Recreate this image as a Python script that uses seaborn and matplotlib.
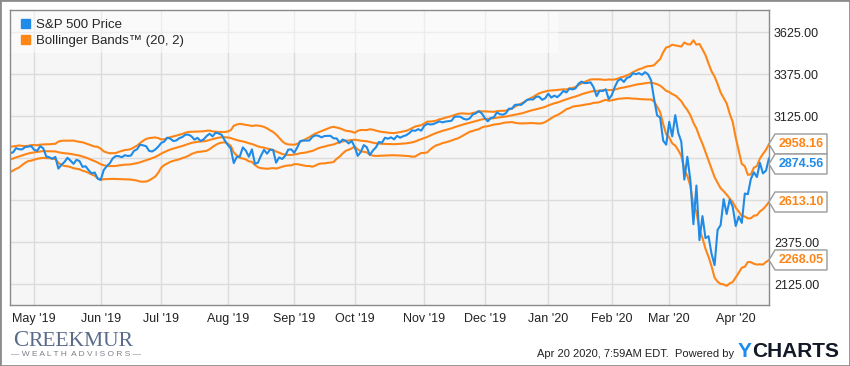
import numpy as np
import pandas as pd
import matplotlib
matplotlib.use("Agg")
import matplotlib.pyplot as plt
import seaborn as sns
from matplotlib.patches import Patch, Polygon, Rectangle
from matplotlib.transforms import IdentityTransform

# S&P 500 daily closes, 21 Mar 2019 - 17 Apr 2020 (extra days before the
# window are needed for the 20 day Bollinger bands)
close_2019_03 = [2854.88, 2800.71, 2798.36, 2818.46, 2805.37, 2815.44, 2834.40]
close_2019_04 = [2867.19, 2867.24, 2873.40, 2879.39, 2892.74, 2895.77, 2878.20, 2888.21,
                 2888.32, 2907.41, 2905.58, 2907.06, 2900.45, 2905.03, 2907.97, 2933.68,
                 2927.25, 2926.17, 2939.88, 2943.03, 2945.83]
close_2019_05 = [2923.73, 2917.52, 2945.64, 2932.47, 2884.05, 2879.42, 2870.72, 2881.40,
                 2811.87, 2834.41, 2850.96, 2876.32, 2859.53, 2840.23, 2864.36, 2856.27,
                 2822.24, 2826.06, 2802.39, 2783.02, 2788.86, 2752.06]
close_2019_06 = [2744.45, 2803.27, 2826.15, 2843.49, 2873.34, 2886.73, 2885.72, 2879.84,
                 2891.64, 2886.98, 2889.67, 2917.75, 2926.46, 2954.18, 2950.46, 2945.35,
                 2917.38, 2913.78, 2924.92, 2941.76]
close_2019_07 = [2964.33, 2973.01, 2995.82, 2990.41, 2975.95, 2979.63, 2993.07, 2999.91,
                 3013.77, 3014.30, 3004.04, 2984.42, 2995.11, 2976.61, 2985.03, 3005.47,
                 3019.56, 3003.67, 3025.86, 3020.97, 3013.18, 2980.38]
close_2019_08 = [2953.56, 2932.05, 2844.74, 2881.77, 2883.98, 2938.09, 2918.65, 2882.70,
                 2926.32, 2840.60, 2847.60, 2888.68, 2923.65, 2900.51, 2924.43, 2922.95,
                 2847.11, 2878.38, 2869.16, 2887.94, 2924.58, 2926.46]
close_2019_09 = [2906.27, 2937.78, 2976.00, 2978.71, 2978.43, 2979.39, 3000.93, 3009.57,
                 3007.39, 2997.96, 3005.70, 3006.73, 3006.79, 2992.07, 2991.78, 2966.60,
                 2984.87, 2977.62, 2961.79, 2976.74]
close_2019_10 = [2940.25, 2887.61, 2910.63, 2952.01, 2938.79, 2893.06, 2919.40, 2938.13,
                 2970.27, 2966.15, 2995.68, 2989.69, 2997.95, 2986.20, 3006.72, 2995.99,
                 3004.52, 3010.29, 3022.55, 3039.42, 3036.89, 3046.77, 3037.56]
close_2019_11 = [3066.91, 3078.27, 3074.62, 3076.78, 3085.18, 3093.08, 3087.01, 3091.84,
                 3094.04, 3096.63, 3120.46, 3122.03, 3120.18, 3108.46, 3103.54, 3110.29,
                 3133.64, 3140.52, 3153.63, 3140.98]
close_2019_12 = [3113.87, 3093.20, 3112.76, 3117.43, 3145.91, 3135.96, 3132.52, 3141.63,
                 3168.57, 3168.80, 3191.45, 3192.52, 3191.14, 3205.37, 3221.22, 3224.01,
                 3223.38, 3239.91, 3240.02, 3221.29, 3230.78]
close_2020_01 = [3257.85, 3234.85, 3246.28, 3237.18, 3253.05, 3274.70, 3265.35, 3288.13,
                 3283.15, 3289.29, 3316.81, 3329.62, 3320.79, 3321.75, 3325.54, 3295.47,
                 3243.63, 3276.24, 3273.40, 3283.66, 3225.52]
close_2020_02 = [3248.92, 3297.59, 3334.69, 3345.78, 3327.71, 3352.09, 3357.75, 3379.45,
                 3373.94, 3380.16, 3370.29, 3386.15, 3373.23, 3337.75, 3225.89, 3128.21,
                 3116.39, 2978.76, 2954.22]
close_2020_03 = [3090.23, 3003.37, 3130.12, 3023.94, 2972.37, 2746.56, 2882.23, 2741.38,
                 2480.64, 2711.02, 2386.13, 2529.19, 2398.10, 2409.39, 2304.92, 2237.40,
                 2447.33, 2475.56, 2630.07, 2541.47, 2626.65, 2584.59]
close_2020_04 = [2470.50, 2526.90, 2488.65, 2663.68, 2659.41, 2749.98, 2789.82, 2761.63,
                 2846.06, 2783.36, 2799.55, 2874.56]

market_holidays = ["2019-04-19", "2019-05-27", "2019-07-04", "2019-09-02", "2019-11-28",
                   "2019-12-25", "2020-01-01", "2020-01-20", "2020-02-17", "2020-04-10"]
y_ticks = [2125, 2375, 2625, 2875, 3125, 3375, 3625]
hidden_y_labels = [2625, 2875]

blue = "#1f8be6"
orange = "#ff8517"

closes = (close_2019_03 + close_2019_04 + close_2019_05 + close_2019_06 + close_2019_07
          + close_2019_08 + close_2019_09 + close_2019_10 + close_2019_11 + close_2019_12
          + close_2020_01 + close_2020_02 + close_2020_03 + close_2020_04)
dates = pd.bdate_range("2019-03-21", "2020-04-17", freq="C", holidays=market_holidays)
assert len(dates) == len(closes), (len(dates), len(closes))

price = pd.Series(closes, index=dates)
mid = price.rolling(20).mean()
sd = price.rolling(20).std(ddof=0)

df = pd.DataFrame({"price": price, "mid": mid, "upper": mid + 2 * sd, "lower": mid - 2 * sd})
df = df.loc["2019-04-18":].copy()
df["date"] = df.index
df = df.reset_index(drop=True)
df["i"] = np.arange(len(df))

sns.set_style("white")
plt.rcParams["font.family"] = ["Liberation Sans", "DejaVu Sans"]

W, H = 850, 366
fig = plt.figure(figsize=(W / 100, H / 100), dpi=100)
fig.patch.set_facecolor("white")
ax = fig.add_axes([10 / W, 1 - 305 / H, 759 / W, 295 / H])
ax.set_facecolor("#f6f6f6")

for col in ["upper", "mid", "lower"]:
    sns.lineplot(data=df, x="i", y=col, color=orange, lw=1.5, estimator=None, ax=ax)
sns.lineplot(data=df, x="i", y="price", color=blue, lw=1.5, estimator=None, ax=ax)

ax.set_xlim(0, len(df) - 1)
ax.set_ylim(2000, 3756)
ax.set_xlabel("")
ax.set_ylabel("")

# month ticks on the first trading day of each month
firsts = df.groupby(df["date"].dt.to_period("M"))["i"].min().iloc[1:]
ax.set_xticks(firsts.values)
ax.set_xticklabels([p.strftime("%b '%y") for p in firsts.index])

ax.yaxis.tick_right()
ax.set_yticks(y_ticks)
ax.set_yticklabels(["" if v in hidden_y_labels else f"{v:.2f}" for v in y_ticks])
ax.tick_params(axis="both", length=0, labelsize=9, colors="#222222")
ax.tick_params(axis="y", pad=3.6)
ax.tick_params(axis="x", pad=6)

ax.grid(True, color="#dcdcdc", lw=1)
ax.set_axisbelow(True)
for sp in ax.spines.values():
    sp.set_color("#8a8a8a")
    sp.set_linewidth(1)
    sp.set_visible(True)

# legend with its pale backdrop
ax.add_patch(Rectangle((0, 1 - 43 / 295), 548 / 759, 43 / 295, transform=ax.transAxes,
                       facecolor="white", alpha=0.5, edgecolor="none", zorder=1.5))
handles = [Patch(color=blue), Patch(color=orange)]
ax.legend(handles, ["S&P 500 Price", "Bollinger Bands\u2122 (20, 2)"], loc="upper left",
          bbox_to_anchor=(11 / 759, 1 - 9 / 295), frameon=False, fontsize=9.5,
          handlelength=0.7, handleheight=0.7, handletextpad=0.4, labelspacing=0.3,
          borderpad=0, borderaxespad=0)

# value tags on the right edge
tags = [(df["upper"].iloc[-1], orange), (df["price"].iloc[-1], blue),
        (df["mid"].iloc[-1], orange), (df["lower"].iloc[-1], orange)]
tags.sort(key=lambda t: -t[0])
x0 = 769
prev_y = None
for val, col in tags:
    y = ax.transData.transform((0, val))[1]
    if prev_y is not None and y > prev_y - 20:
        y = prev_y - 20
    prev_y = y
    verts = [(x0, y), (x0 + 6, y + 10), (x0 + 58, y + 10), (x0 + 58, y - 10), (x0 + 6, y - 10)]
    fig.add_artist(Polygon(verts, closed=True, transform=IdentityTransform(),
                           facecolor="white", edgecolor="#9a9a9a", lw=1, zorder=5))
    fig.text((x0 + 32) / W, y / H, f"{val:.2f}", ha="center", va="center",
             fontsize=9, fontweight="bold", color=col, zorder=6)

# footer
fig.text(13 / W, 1 - 346 / H, "C", fontsize=16.5, family="Liberation Serif",
         color="#5a6a8a", va="baseline")
fig.text(28.5 / W, 1 - 346 / H, "REEKMUR", fontsize=15.5, family="Liberation Serif",
         color="#5a6a8a", va="baseline")
fig.text(11 / W, 1 - 354 / H, "\u2014 W E A L T H  A D V I S O R S \u2014", fontsize=6,
         color="#7c8088", va="center")
fig.text(734 / W, 1 - 357 / H, "Apr 20 2020, 7:59AM EDT.  Powered by", fontsize=8,
         color="#222222", ha="right", va="baseline")
fig.text(738 / W, 1 - 357 / H, "Y", fontsize=15, fontweight="bold", color="#1a8cf0",
         va="baseline")
fig.text(752 / W, 1 - 357 / H, "CHARTS", fontsize=15, fontweight="bold", color="#111827",
         va="baseline")

fig.add_artist(Rectangle((0, 0), 1, 1, transform=fig.transFigure, fill=False,
                         edgecolor="#8c8c8c", lw=2))

fig.savefig("out.png", dpi=100)
